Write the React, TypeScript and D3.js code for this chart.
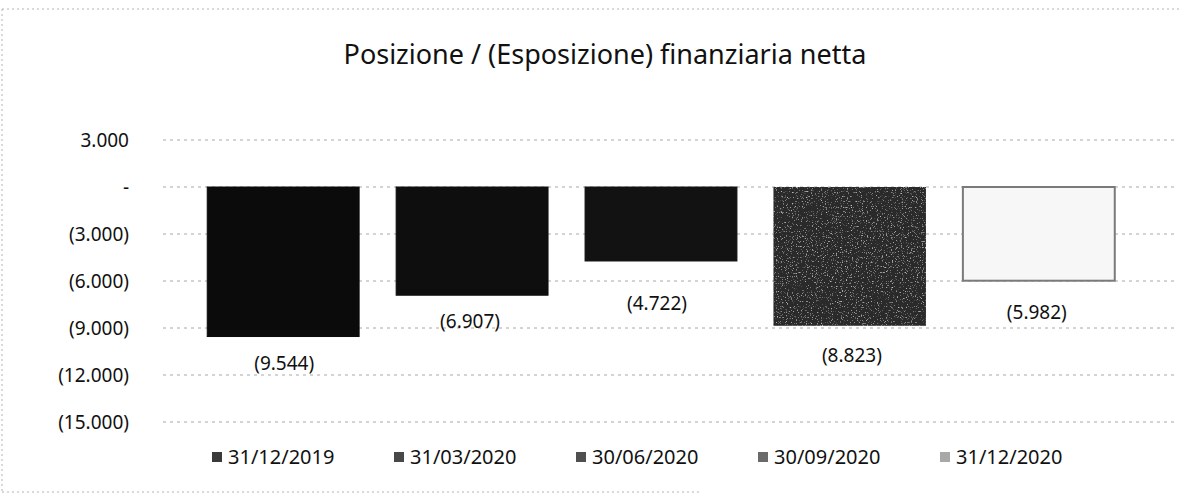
import React from 'react';
import { scaleBand, scaleLinear, format } from 'd3';

// dati
const periods = ['31/12/2019', '31/03/2020', '30/06/2020', '30/09/2020', '31/12/2020'];
const netPosition = [-9544, -6907, -4722, -8823, -5982];
const yTicks = [3000, 0, -3000, -6000, -9000, -12000, -15000];

const barColors = ['#0b0b0b', '#0e0e0e', '#121212', '#2c2c2c', '#f7f7f7'];
const barStrokes = ['#0b0b0b', '#0e0e0e', '#121212', '#2c2c2c', '#7a7a7a'];
const legendColors = ['#3a3a3a', '#484848', '#505050', '#6a6a6a', '#a8a8a8'];
// piccoli spostamenti delle etichette come nell'originale (layout)
const labelNudge = [
  { dx: 1, dy: 27 },
  { dx: -2, dy: 26 },
  { dx: -4, dy: 42 },
  { dx: 2, dy: 30 },
  { dx: -2, dy: 32 },
];

const width = 1185;
const height = 502;
const font = "'Noto Sans', 'Open Sans', sans-serif";

const thousands = format(',.0f');
const itNum = (v: number) => thousands(Math.abs(v)).replace(/,/g, '.');
const tickFormat = (v: number) => (v === 0 ? '-' : v < 0 ? `(${itNum(v)})` : itNum(v));

export default function App() {
  const xScale = scaleBand<string>()
    .domain(periods)
    .range([160, 1162])
    .paddingInner(0.196)
    .paddingOuter(0.25);

  const yScale = scaleLinear().domain([-15000, 3000]).range([422, 140]);

  const legendX = scaleBand<string>().domain(periods).range([212, 1122]);

  return (
    <svg
      width={width}
      height={height}
      style={{ position: 'absolute', left: 0, top: 0, background: '#fff' }}
    >
      <defs>
        {/* grana da scansione per la barra grigia */}
        <filter id="grain" x="0" y="0" width="100%" height="100%">
          <feTurbulence type="fractalNoise" baseFrequency="0.8" numOctaves={2} seed={3} result="noise" />
          <feColorMatrix
            in="noise"
            type="matrix"
            values="0 0 0 0 1  0 0 0 0 1  0 0 0 0 1  0 0 0 2.2 -1.35"
            result="specks"
          />
          <feComposite in="specks" in2="SourceGraphic" operator="in" result="clip" />
          <feMerge>
            <feMergeNode in="SourceGraphic" />
            <feMergeNode in="clip" />
          </feMerge>
        </filter>
      </defs>

      <g stroke="#b4b4b4" strokeDasharray="2 3" fill="none">
        <line x1={2} x2={1180} y1={9} y2={9} />
        <line x1={2} x2={2} y1={9} y2={492} />
        <line x1={2} x2={700} y1={492} y2={492} />
      </g>
      <text
        x={605}
        y={64}
        textAnchor="middle"
        fontFamily={font}
        fontSize={27}
        fill="#111"
      >
        Posizione / (Esposizione) finanziaria netta
      </text>

      <g className="axis-left">
        {yTicks.map(t => (
          <g key={t} transform={`translate(0,${yScale(t)})`}>
            <line
              x1={163}
              x2={1175}
              stroke="#8c8c8c"
              strokeOpacity={0.75}
              strokeWidth={1}
              strokeDasharray="3 4"
            />
            <text
              x={129}
              dy=".35em"
              textAnchor="end"
              fontFamily={font}
              fontSize={19}
              fill="#111"
            >
              {tickFormat(t)}
            </text>
          </g>
        ))}
      </g>

      <g className="bars">
        {periods.map((p, i) => {
          const v = netPosition[i];
          const y0 = yScale(0);
          const y1 = yScale(v);
          return (
            <rect
              key={p}
              x={xScale(p)}
              y={Math.min(y0, y1)}
              width={xScale.bandwidth()}
              height={Math.abs(y1 - y0)}
              fill={barColors[i]}
              stroke={barStrokes[i]}
              strokeWidth={i === 4 ? 2 : 1}
              filter={i === 3 ? 'url(#grain)' : undefined}
            />
          );
        })}
        {periods.map((p, i) => {
          const v = netPosition[i];
          return (
            <text
              key={p}
              x={(xScale(p) ?? 0) + xScale.bandwidth() / 2 + labelNudge[i].dx}
              y={yScale(v) + labelNudge[i].dy}
              dy=".35em"
              textAnchor="middle"
              fontFamily={font}
              fontSize={19}
              fill="#111"
            >
              {tickFormat(v)}
            </text>
          );
        })}
      </g>

      <g className="legend" transform="translate(0,457)">
        {periods.map((p, i) => (
          <g key={p} transform={`translate(${legendX(p)},0)`}>
            <rect x={0} y={-5} width={10} height={10} fill={legendColors[i]} />
            <text
              x={16}
              dy=".35em"
              fontFamily={font}
              fontSize={20}
              fill="#111"
            >
              {p}
            </text>
          </g>
        ))}
      </g>
    </svg>
  );
}
